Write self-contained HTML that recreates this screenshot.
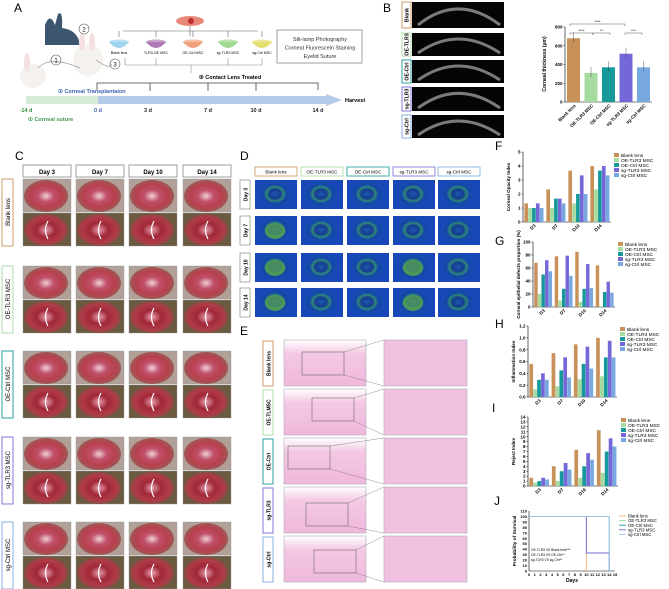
<!DOCTYPE html>
<html><head><meta charset="utf-8"><style>
html,body{margin:0;padding:0;background:#fff;}
svg{display:block;font-family:"Liberation Sans",Arial,sans-serif;}
</style></head><body>
<svg id="fig" width="669" height="589" viewBox="0 0 669 589" xmlns="http://www.w3.org/2000/svg">
<defs>
<radialGradient id="eyeC" cx="50%" cy="50%" r="60%"><stop offset="0" stop-color="#f0d0d8"/><stop offset="0.3" stop-color="#c0506a"/><stop offset="0.6" stop-color="#b8404e"/><stop offset="1" stop-color="#8a6a5a"/></radialGradient>
<radialGradient id="eyeC2" cx="50%" cy="50%" r="60%"><stop offset="0" stop-color="#e8a0b0"/><stop offset="0.35" stop-color="#a02838"/><stop offset="0.65" stop-color="#b03a48"/><stop offset="1" stop-color="#6a5a40"/></radialGradient>
<radialGradient id="eyeD" cx="50%" cy="50%" r="60%"><stop offset="0" stop-color="#1e58b0"/><stop offset="0.3" stop-color="#143c90"/><stop offset="0.45" stop-color="#2e8878"/><stop offset="0.6" stop-color="#1446a8"/><stop offset="1" stop-color="#1850b8"/></radialGradient>
<linearGradient id="he" x1="0" y1="0" x2="0" y2="1"><stop offset="0" stop-color="#fff"/><stop offset="0.3" stop-color="#f4c8e4"/><stop offset="1" stop-color="#f0b8dc"/></linearGradient>
</defs>
<g id="root"></g>
</svg>
<script>
// ---- data ----
const groups = ["Blank lens","OE-TLR3 MSC","OE-Ctrl MSC","sg-TLR3 MSC","sg-Ctrl MSC"];
const colors = ["#c8915a","#a6dba0","#15999a","#7468d8","#78a8e0"];
const days = ["D3","D7","D10","D14"];
const thickValues = [680,310,370,515,370];
const thickTicks = [0,200,400,600,800];
const opacityValues = [[1.33,1,1,1.33,1],[2.33,1,1.67,1.67,1.33],[3.67,1.33,2,3.33,2],[4,2.33,3.67,4,3.33]];
const opacityTicks = [0,1,2,3,4,5];
const defectValues = [[68,20,50,72,55],[78,10,28,79,48],[85,8,28,66,29],[64,1,23,39,22]];
const defectTicks = [0,20,40,60,80,100];
const inflamValues = [[0.56,0.13,0.29,0.4,0.29],[0.74,0.18,0.45,0.67,0.33],[0.89,0.3,0.56,0.85,0.48],[1.0,0.35,0.67,0.95,0.67]];
const inflamTicks = [0,0.2,0.4,0.6,0.8,1.0,1.2];
const rejectValues = [[1.67,0.67,1,1.67,1.33],[4,1,3,4.67,3.33],[7.33,1.67,4,6.67,5.33],[11.33,2.67,7,9.67,8]];
const rejectTicks = [0,1,2,3,4,5,6,7,8,9,10,11,12,13,14];
const survDays = [[0,10,10],[0,14],[0,14,14],[0,10,10,14,14],[0,14,14]];
const survProb = [[100,100,0],[100,100],[100,100,0],[100,100,33,33,0],[100,100,0]];
const survTicksY = [0,10,20,30,40,50,60,70,80,90,100,110];
const survTicksX = [0,1,2,3,4,5,6,7,8,9,10,11,12,13,14,15];

const NS="http://www.w3.org/2000/svg";
const root=document.getElementById('root');
function el(tag,attrs,parent,text){const e=document.createElementNS(NS,tag);for(const k in attrs)e.setAttribute(k,attrs[k]);if(text!==undefined)e.textContent=text;(parent||root).appendChild(e);return e;}
function label(t,x,y){const e=el('text',{x:x,y:y,'font-size':12},root,t);

}

// ---------- Panel A ----------
label('A',14,12);
const gA=el('g',{});


el('path',{d:'M45 45 L45 25 Q50 12 55 25 L58 14 Q63 10 62 28 Q78 30 80 45 Z',fill:'#3d5670'},gA);
el('ellipse',{cx:33,cy:76,rx:13,ry:12,fill:'#f4f1ee'},gA);
el('ellipse',{cx:27,cy:62,rx:3,ry:9,fill:'#f4e0e0'},gA);
el('ellipse',{cx:88,cy:60,rx:15,ry:16,fill:'#f4f1ee'},gA);
el('ellipse',{cx:82,cy:42,rx:3,ry:9,fill:'#f4e0e0'},gA);
el('ellipse',{cx:92,cy:42,rx:3,ry:9,fill:'#f4e0e0'},gA);
[[56,60,'1'],[84,29,'2'],[115,64,'3']].forEach(c=>{el('circle',{cx:c[0],cy:c[1],r:5,fill:'#fff',stroke:'#555','stroke-width':0.6},gA);el('text',{x:c[0],y:c[1]+2.5,'font-size':6,'text-anchor':'middle'},gA,c[2]);});
el('path',{d:'M38 68 Q50 55 80 68 M96 60 Q110 70 112 64',fill:'none',stroke:'#666','stroke-width':0.5},gA);
el('ellipse',{cx:190,cy:21,rx:14,ry:5,fill:'#e88878'},gA);
el('circle',{cx:191,cy:21,r:3,fill:'#c03030'},gA);
el('path',{d:'M123 31 L258 31 M190 26 L190 36',stroke:'#666','stroke-width':0.6,fill:'none'},gA);
const bowlX=[119,156,193,228,262];
const bowlC=['#9fd4ef','#b07ab8','#f2a27a','#9fd890','#e4e070'];
const bowlL=['Blank lens','TLR3-OE MSC','OE-Ctrl MSC','sg-TLR3 MSC','sg-Ctrl MSC'];
bowlX.forEach((x,i)=>{
 el('line',{x1:x,y1:31,x2:x,y2:37,stroke:'#666','stroke-width':0.6},gA);
 el('path',{d:`M${x-10} 42 Q${x} 54 ${x+10} 42 Z`,fill:bowlC[i]},gA);
 el('ellipse',{cx:x,cy:42,rx:10,ry:2.5,fill:bowlC[i],opacity:0.7},gA);
 el('text',{x:x,y:54,'font-size':3.6,'text-anchor':'middle'},gA,bowlL[i]);
});
el('path',{d:'M125 58 L125 65 L262 65 L262 58 M191 65 L191 73 M156 58 L156 65 M228 58 L228 65',stroke:'#888','stroke-width':0.6,fill:'none'},gA);
el('rect',{x:277,y:30,width:85,height:33,fill:'#fff',stroke:'#777','stroke-width':0.7},gA);
['Slit-lamp Photography','Corneal Fluorescein Staining','Eyelid Suture'].forEach((t,i)=>el('text',{x:320,y:41+i*8.5,'font-size':5.5,'text-anchor':'middle',fill:'#333'},gA,t));
el('text',{x:230,y:79,'font-size':5.5,'font-weight':'bold','text-anchor':'middle'},gA,'③ Contact Lens Treated');
el('path',{d:'M97 90 L97 83 L318 83 L318 90 M150 83 L150 91 M208 83 L208 91 M256 83 L256 91',stroke:'#444','stroke-width':0.8,fill:'none'},gA);
el('text',{x:58,y:93,'font-size':5.5,'font-weight':'bold',fill:'#3a62b0'},gA,'② Corneal Transplantaion');
el('rect',{x:26,y:96,width:72,height:8,fill:'#d5ebd8'},gA);
el('rect',{x:98,y:96,width:228,height:8,fill:'#b4cbe8'},gA);
el('path',{d:'M326 94 L342 100 L326 106 Z',fill:'#b4cbe8'},gA);
el('text',{x:345,y:102,'font-size':5.5,'font-weight':'bold'},gA,'Harvest');
[['-14 d',26,'#2e8a3e'],['0 d',98,'#3a62b0'],['3 d',148,'#222'],['7 d',208,'#222'],['10 d',256,'#222'],['14 d',318,'#222']].forEach(t=>el('text',{x:t[1],y:112,'font-size':5.5,'font-weight':'bold',fill:t[2],'text-anchor':'middle'},gA,t[0]));
el('text',{x:28,y:121,'font-size':5.5,'font-weight':'bold',fill:'#3f9a50'},gA,'① Corneal suture');

// ---------- Panel B ----------
label('B',383,12);
const octLabels=['Blank','OE-TLR3','OE-Ctrl','sg-TLR3','sg-Ctrl'];
const octY=[[2,28],[33,56],[60,83],[87,111],[115,138]];
octLabels.forEach((t,i)=>{
 const [y0,y1]=octY[i];
 const b=el('rect',{x:402,y:y0,width:9,height:y1-y0,fill:'#fff',stroke:colors[i],'stroke-width':0.9});
 
 
 el('text',{x:0,y:0,'font-size':5.2,'font-weight':'bold',transform:`translate(408.5 ${(y0+y1)/2}) rotate(-90)`,'text-anchor':'middle'},root,t);
 const im=el('rect',{x:412,y:y0,width:92,height:y1-y0,fill:'#050505'});
 
 
 const h=y1-y0;
 el('path',{d:`M418 ${y1-3} Q458 ${y0-h*0.35} 500 ${y1-3}`,fill:'none',stroke:'#999','stroke-width':3,opacity:0.8});
});
function barAxes(g,x0,x1,yTop,yBot,ticks,fmt){
 const max=ticks[ticks.length-1];
 const ys=v=>yBot-(v/max)*(yBot-yTop);
 el('line',{x1:x0,y1:yTop,x2:x0,y2:yBot,stroke:'#000','stroke-width':0.6},g);
 el('line',{x1:x0,y1:yBot,x2:x1,y2:yBot,stroke:'#000','stroke-width':0.6},g);
 ticks.forEach(t=>{el('line',{x1:x0-1.5,y1:ys(t),x2:x0,y2:ys(t),stroke:'#000','stroke-width':0.5},g);
 el('text',{x:x0-2.5,y:ys(t)+1.6,'font-size':4.5,'font-weight':'bold','text-anchor':'end'},g,fmt?fmt(t):t);});
 return ys;
}
const gB=el('g',{});


const ysB=barAxes(gB,565,652,27,102,thickTicks);
thickValues.forEach((v,i)=>{
 const x=567+i*17.5;
 const r=el('rect',{x:x,y:ysB(v),width:13,height:102-ysB(v),fill:colors[i]},gB);
 
 
 el('line',{x1:x+6.5,y1:ysB(v)-6,x2:x+6.5,y2:ysB(v)+4,stroke:'#333','stroke-width':0.4},gB);
 el('text',{x:0,y:0,'font-size':4.5,'font-weight':'bold','text-anchor':'end',transform:`translate(${x+9} 106) rotate(-45)`},gB,groups[i]);
});
el('text',{x:0,y:0,'font-size':5,'font-weight':'bold','text-anchor':'middle',transform:'translate(546 64) rotate(-90)'},gB,'Corneal  thickness (μm)');
[[570,625,24,'****'],[570,593,33,'****'],[593,610,33,'**'],[625,642,33,'***']].forEach(s=>{
 el('path',{d:`M${s[0]} ${s[2]+2} L${s[0]} ${s[2]} L${s[1]} ${s[2]} L${s[1]} ${s[2]+2}`,stroke:'#333','stroke-width':0.4,fill:'none'},gB);
 el('text',{x:(s[0]+s[1])/2,y:s[2]-0.8,'font-size':4,'text-anchor':'middle'},gB,s[3]);});

// ---------- Panel C ----------
label('C',15,160);
const cDays=['Day 3','Day 7','Day 10','Day 14'];
const cX=[23,76,129,183];
cDays.forEach((d,i)=>{el('rect',{x:cX[i],y:165,width:48,height:12,fill:'#fff',stroke:'#777','stroke-width':0.7});
 el('text',{x:cX[i]+24,y:174,'font-size':6,'font-weight':'bold','text-anchor':'middle'},root,d);});
const cGroupY=[179,266,351,437,522];
const cLab=['Blank lens','OE-TLR3 MSC','OE-Ctrl MSC','sg-TLR3 MSC','sg-Ctrl MSC'];
cGroupY.forEach((y,g)=>{
 const b=el('rect',{x:2,y:y,width:11,height:67,fill:'#fff',stroke:colors[g],'stroke-width':0.9});
 
 
 el('text',{x:0,y:0,'font-size':6,'text-anchor':'middle',transform:`translate(10 ${y+33}) rotate(-90)`},root,cLab[g]);
 for(let r=0;r<2;r++)for(let c=0;c<4;c++){
  const yy=y+r*34;
  const p=el('rect',{x:cX[c],y:yy,width:48,height:33,fill:r? '#6a5a40':'#b0a098',stroke:'#999','stroke-width':0.4});
  
  
  el('ellipse',{cx:cX[c]+23,cy:yy+17,rx:22,ry:16,fill:r?'url(#eyeC2)':'url(#eyeC)'});
  if(r) el('path',{d:`M${cX[c]+25} ${yy+8} Q${cX[c]+20} ${yy+17} ${cX[c]+25} ${yy+26}`,stroke:'#fff','stroke-width':1.2,fill:'none'});
 }
});

// ---------- Panel D ----------
label('D',240,160);
const dX=[255,301,347,393,438];
const dHead=['Blank lens','OE-TLR3 MSC','OE-Ctrl MSC','sg-TLR3 MSC','sg-Ctrl MSC'];
dHead.forEach((t,i)=>{el('rect',{x:dX[i],y:167,width:42,height:9,fill:'#fff',stroke:colors[i],'stroke-width':0.8});
 el('text',{x:dX[i]+21,y:173.5,'font-size':4.6,'text-anchor':'middle'},root,t);});
const dY=[180,216,253,288];
['Day 3','Day 7','Day 10','Day 14'].forEach((t,r)=>{
 el('rect',{x:240,y:dY[r],width:10,height:29,fill:'#fff',stroke:'#777','stroke-width':0.6});
 el('text',{x:0,y:0,'font-size':5,'font-weight':'bold','text-anchor':'middle',transform:`translate(247.5 ${dY[r]+14.5}) rotate(-90)`},root,t);
 dX.forEach((x,c)=>{
  const p=el('rect',{x:x,y:dY[r],width:42,height:29,fill:'#1848b8'});
  
  
  el('ellipse',{cx:x+20,cy:dY[r]+14,rx:16,ry:13,fill:'url(#eyeD)'});
  if((c===0&&r>0)||(c===3&&r>1)) el('ellipse',{cx:x+20,cy:dY[r]+15,rx:10,ry:8,fill:'#5aa848',opacity:0.7});
 });
});

// ---------- Panel E ----------
label('E',240,335);
const eY=[340,389,438,487,536];
const eLab=['Blank lens','OE-TLMSC','OE-Ctrl','sg-TLR3','sg-Ctrl'];
eY.forEach((y,i)=>{
 el('rect',{x:263,y:y+1,width:10,height:45,fill:'#fff',stroke:colors[i],'stroke-width':0.9});
 el('text',{x:0,y:0,'font-size':5,'font-weight':'bold','text-anchor':'middle',transform:`translate(270.5 ${y+23.5}) rotate(-90)`},root,eLab[i]);
 const a=el('rect',{x:284,y:y,width:82,height:46,fill:'url(#he)',stroke:'#aab','stroke-width':0.6});
 
 
 const b=el('rect',{x:384,y:y,width:83,height:46,fill:'#f2c0e0',stroke:'#aab','stroke-width':0.6});
 
 
 const bx=[302,312,288,306,314][i], by=y+[12,9,8,16,14][i];
 el('rect',{x:bx,y:by,width:42,height:23,fill:'none',stroke:'#555','stroke-width':0.5});
 el('path',{d:`M${bx+42} ${by} L384 ${y} M${bx+42} ${by+23} L384 ${y+46}`,stroke:'#777','stroke-width':0.4});
});

// ---------- Grouped bar charts F-I ----------
function grouped(name,lab,lx,ly,x0,x1,yTop,yBot,ticks,vals,ytitle,legY,fmt){
 label(lab,lx,ly);
 const g=el('g',{});
 
 
 const ys=barAxes(g,x0,x1,yTop,yBot,ticks,fmt);
 const gw=(x1-x0)/4, bw=gw/5.7;
 vals.forEach((row,d)=>{
  row.forEach((v,s)=>{
   const x=x0+d*gw+bw*0.35+s*bw;
   const r=el('rect',{x:x,y:ys(v),width:bw*0.95,height:yBot-ys(v),fill:colors[s]},g);
   
   
  });
  el('text',{x:0,y:0,'font-size':4.5,'font-weight':'bold','text-anchor':'end',transform:`translate(${x0+d*gw+gw/2+2} ${yBot+4}) rotate(-45)`},g,days[d]);
 });
 el('text',{x:0,y:0,'font-size':4.6,'font-weight':'bold','text-anchor':'middle',transform:`translate(${x0-13} ${(yTop+yBot)/2}) rotate(-90)`},g,ytitle);
 groups.forEach((t,s)=>{
  el('rect',{x:x1+3,y:legY+s*5,width:5,height:4,fill:colors[s]},g);
  el('text',{x:x1+10,y:legY+s*5+3.8,'font-size':4.8},g,t);
 });
}
grouped('opacity-chart','F',495,150,523,611,152,222,opacityTicks,opacityValues,'Corneal Opacity Index',153);
grouped('defect-chart','G',495,245,533,615,242,307,defectTicks,defectValues,'Corneal epithelial defects proportion (%)',242);
grouped('inflammation-chart','H',495,328,528,617,326,397,inflamTicks,inflamValues,'Inflammation Index',327,t=>t.toFixed(1));
grouped('reject-chart','I',492,412,528,618,417,486,rejectTicks,rejectValues,'Reject Index',418);

// ---------- Panel J ----------
label('J',494,505);
const gJ=el('g',{});


const jx0=529,jx1=615,jyT=511,jyB=571;
const sx=v=>jx0+v/15*(jx1-jx0), sy=v=>jyB-v/110*(jyB-jyT);
el('line',{x1:jx0,y1:jyT,x2:jx0,y2:jyB,stroke:'#000','stroke-width':0.6},gJ);
el('line',{x1:jx0,y1:jyB,x2:jx1,y2:jyB,stroke:'#000','stroke-width':0.6},gJ);
survTicksY.forEach(t=>el('text',{x:jx0-2,y:sy(t)+1.5,'font-size':4,'font-weight':'bold','text-anchor':'end'},gJ,t));
survTicksX.forEach(t=>el('text',{x:sx(t),y:jyB+5,'font-size':4,'font-weight':'bold','text-anchor':'middle'},gJ,t));
el('text',{x:(jx0+jx1)/2,y:582,'font-size':5,'font-weight':'bold','text-anchor':'middle'},gJ,'Days');
el('text',{x:0,y:0,'font-size':4.8,'font-weight':'bold','text-anchor':'middle',transform:`translate(516 541) rotate(-90)`},gJ,'Probability of Survival');
const jcol=['#f5b070','#a6dba0','#15999a','#7468d8','#a8c8f0'];
survDays.forEach((ds,s)=>{
 let d='';
 ds.forEach((v,k)=>{d+=(k?'L':'M')+sx(v)+' '+sy(survProb[s][k])+' ';});
 const p=el('path',{d:d,fill:'none',stroke:jcol[s],'stroke-width':0.9},gJ);
 
 
 el('line',{x1:619,y1:516+s*4.6,x2:626,y2:516+s*4.6,stroke:jcol[s],'stroke-width':0.9},gJ);
 el('text',{x:628,y:517.6+s*4.6,'font-size':4.3},gJ,groups[s]);
});
['OE-TLR3 VS Blank lens***','OE-TLR3 VS OE-Ctrl**','sg-TLR3 VS sg-Ctrl**'].forEach((t,i)=>el('text',{x:531,y:551+i*5,'font-size':3.3},gJ,t));
</script>
</body></html>
